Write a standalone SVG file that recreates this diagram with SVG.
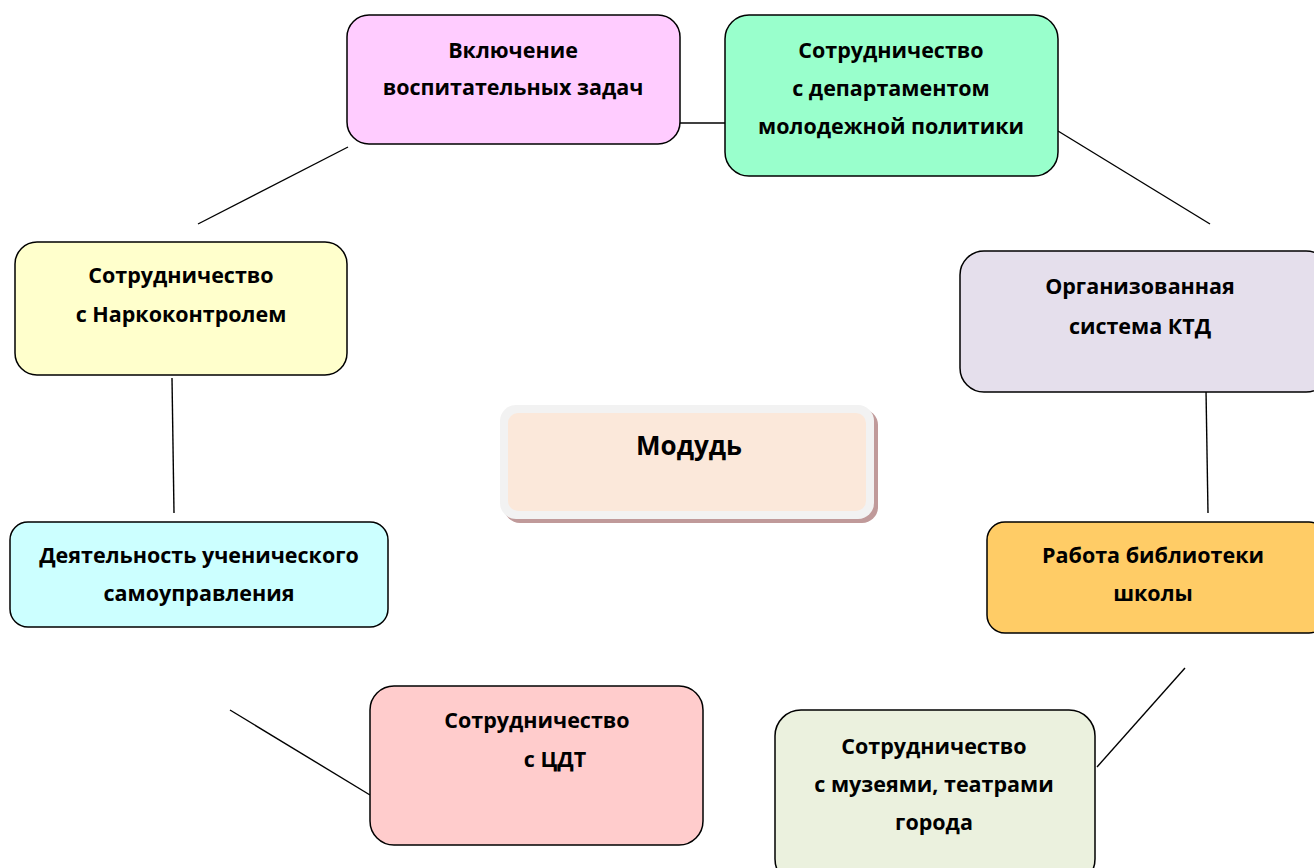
<svg xmlns="http://www.w3.org/2000/svg" width="1314" height="868" viewBox="0 0 1314 868">
<style>
.box{stroke:#000;stroke-width:1.5}
.t{font-family:"Open Sans","Liberation Sans",sans-serif;font-weight:bold;font-size:21.5px;fill:#000;text-anchor:middle}
.c{stroke:#000;stroke-width:1.4;fill:none}
</style>
<rect width="1314" height="868" fill="#fff"/>
<g id="connectors">
<line class="c" x1="680" y1="123" x2="725" y2="123"/>
<line class="c" x1="1058" y1="131" x2="1210" y2="224"/>
<line class="c" x1="348" y1="147" x2="198" y2="224"/>
<line class="c" x1="172" y1="378" x2="174" y2="513"/>
<line class="c" x1="1206" y1="390" x2="1208" y2="513"/>
<line class="c" x1="1185" y1="668" x2="1097" y2="767"/>
<line class="c" x1="230" y1="710" x2="370" y2="795"/>
</g>
<g id="n1"><rect class="box" x="347" y="15" width="333" height="129" rx="22" fill="#FFCCFF"/>
<text class="t" x="513" y="58">Включение</text><text class="t" x="513" y="95">воспитательных задач</text></g>
<g id="n2"><rect class="box" x="725" y="15" width="333" height="161" rx="24" fill="#99FFCC"/>
<text class="t" x="891" y="58">Сотрудничество</text><text class="t" x="891" y="96">с департаментом</text><text class="t" x="891" y="134">молодежной политики</text></g>
<g id="n3"><rect class="box" x="15" y="242" width="332" height="133" rx="22" fill="#FFFFCC"/>
<text class="t" x="181" y="283">Сотрудничество</text><text class="t" x="181" y="322">с Наркоконтролем</text></g>
<g id="n4"><rect class="box" x="960" y="251" width="370" height="141" rx="24" fill="#E5DFEC"/>
<text class="t" x="1140" y="294">Организованная</text><text class="t" x="1140" y="334">система КТД</text></g>
<g id="n5">
<rect x="504" y="409" width="374" height="114" rx="16" fill="#C09A9A"/>
<rect x="500" y="405" width="374" height="114" rx="16" fill="#F2F2F2"/>
<rect x="508" y="413" width="358" height="98" rx="10" fill="#FBE8DA"/>
<text class="t" x="689" y="455" style="font-size:26px">Модудь</text></g>
<g id="n6"><rect class="box" x="10" y="522" width="378" height="105" rx="18" fill="#CCFFFF"/>
<text class="t" x="199" y="563">Деятельность ученического</text><text class="t" x="199" y="601">самоуправления</text></g>
<g id="n7"><rect class="box" x="987" y="522" width="340" height="111" rx="18" fill="#FFCC66"/>
<text class="t" x="1153" y="563">Работа библиотеки</text><text class="t" x="1153" y="601">школы</text></g>
<g id="n8"><rect class="box" x="370" y="686" width="333" height="159" rx="24" fill="#FFCCCC"/>
<text class="t" x="537" y="728">Сотрудничество</text><text class="t" x="555" y="767">с ЦДТ</text></g>
<g id="n9"><rect class="box" x="775" y="710" width="320" height="175" rx="26" fill="#EBF1DE"/>
<text class="t" x="934" y="754">Сотрудничество</text><text class="t" x="934" y="792">с музеями, театрами</text><text class="t" x="934" y="830">города</text></g>
</svg>
